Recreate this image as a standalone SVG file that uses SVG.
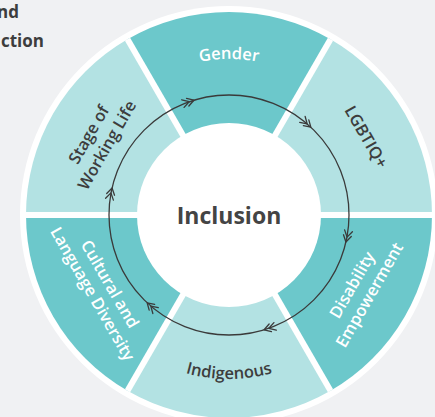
<svg xmlns="http://www.w3.org/2000/svg" width="435" height="417" viewBox="0 0 435 417">
<style>
.dark{fill:#6cc8cb}
.light{fill:#b3e2e3}
.lbl{font-family:"Open Sans","Noto Sans",sans-serif;font-weight:600;font-size:16.5px;text-anchor:middle}
.w{fill:#ffffff}
.d{fill:#3d3d3d}
.gap{stroke:#ffffff;stroke-width:6;fill:none}
.chev{stroke:#3a3a3a;stroke-width:1.3;fill:none;stroke-linecap:round;stroke-linejoin:round}
.title{font-family:"Open Sans","Noto Sans",sans-serif;font-weight:700;font-size:17px;fill:#3d3d3d;text-anchor:end}
</style>
<defs>
<path id="chev" class="chev" d="M222.5,91 L229,95 L222.5,99 M217.5,91 L224,95 L217.5,99"/>
<path id="arcTop" d="M109.5,114.7 A156,156 0 0 1 348.5,114.7"/>
<path id="arcBottom" d="M103.4,320.4 A164,164 0 0 0 354.6,320.4"/>
</defs>
<rect x="0" y="0" width="435" height="417" fill="#f0f1f3"/>
<text class="title" x="19" y="18">nd</text>
<text class="title" x="44" y="47">ction</text>
<circle cx="229" cy="215" r="209" fill="#ffffff"/>
<g id="gender"><path class="dark" d="M229,215 L127.5,39.2 A203,203 0 0 1 330.5,39.2 Z"/></g>
<g id="lgbtiq"><path class="light" d="M229,215 L330.5,39.2 A203,203 0 0 1 432,215 Z"/></g>
<g id="disability"><path class="dark" d="M229,215 L432,215 A203,203 0 0 1 330.5,390.8 Z"/></g>
<g id="indigenous"><path class="light" d="M229,215 L330.5,390.8 A203,203 0 0 1 127.5,390.8 Z"/></g>
<g id="cultural"><path class="dark" d="M229,215 L127.5,390.8 A203,203 0 0 1 26,215 Z"/></g>
<g id="stage"><path class="light" d="M229,215 L26,215 A203,203 0 0 1 127.5,39.2 Z"/></g>
<g id="gaps">
<line class="gap" x1="26" y1="215" x2="432" y2="215"/>
<line class="gap" x1="127.5" y1="39.2" x2="330.5" y2="390.8"/>
<line class="gap" x1="330.5" y1="39.2" x2="127.5" y2="390.8"/>
</g>
<g id="inclusion">
<circle cx="229" cy="215" r="92" fill="#ffffff"/>
<text x="229" y="223.5" font-family="Open Sans, Noto Sans, sans-serif" font-weight="700" font-size="23" fill="#444444" text-anchor="middle">Inclusion</text>
</g>
<g id="connectors">
<circle cx="229" cy="215" r="120" fill="none" stroke="#3a3a3a" stroke-width="1.3"/>
<use href="#chev" transform="rotate(-17 229 215)"/>
<use href="#chev" transform="rotate(43 229 215)"/>
<use href="#chev" transform="rotate(103 229 215)"/>
<use href="#chev" transform="rotate(163 229 215)"/>
<use href="#chev" transform="rotate(223 229 215)"/>
<use href="#chev" transform="rotate(283 229 215)"/>
</g>
<g id="labels">
<text class="lbl w"><textPath href="#arcTop" startOffset="50%">Gender</textPath></text>
<text class="lbl d" transform="translate(366 137) rotate(60)" y="5.5">LGBTIQ+</text>
<text class="lbl w" transform="translate(361 290) rotate(-60)"><tspan x="0" y="-4.5">Disability</tspan><tspan x="0" y="15.5">Empowerment</tspan></text>
<text class="lbl d"><textPath href="#arcBottom" startOffset="50%">Indigenous</textPath></text>
<text class="lbl w" transform="translate(101 289) rotate(60)"><tspan x="0" y="-4.5">Cultural and</tspan><tspan x="0" y="15.5">Language Diversity</tspan></text>
<text class="lbl d" transform="translate(98 140) rotate(-60)"><tspan x="0" y="-5">Stage of</tspan><tspan x="0" y="16">Working Life</tspan></text>
</g>
</svg>
